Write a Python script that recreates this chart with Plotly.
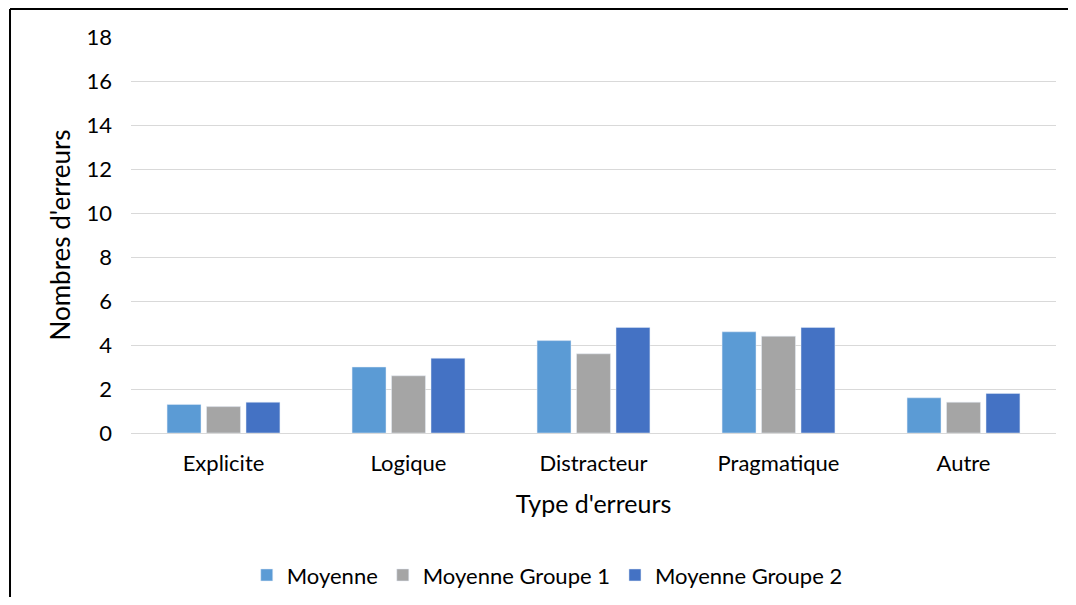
import plotly.graph_objects as go

categories = ['Explicite', 'Logique', 'Distracteur', 'Pragmatique', 'Autre']
moyenne = [1.3, 3.0, 4.2, 4.6, 1.6]
moyenne_g1 = [1.2, 2.6, 3.6, 4.4, 1.4]
moyenne_g2 = [1.4, 3.4, 4.8, 4.8, 1.8]
y_ticks = [0, 2, 4, 6, 8, 10, 12, 14, 16, 18]

font_family = 'Lato, Carlito, Calibri, sans-serif'

fig = go.Figure()
fig.add_trace(go.Bar(x=categories, y=moyenne, name='Moyenne', marker_color='#5B9BD5'))
fig.add_trace(go.Bar(x=categories, y=moyenne_g1, name='Moyenne Groupe 1', marker_color='#A5A5A5'))
fig.add_trace(go.Bar(x=categories, y=moyenne_g2, name='Moyenne Groupe 2', marker_color='#4472C4'))

# the page has an 8px body margin, so the figure is a bit smaller than the window
fig.update_layout(
    width=1060, height=589,
    margin=dict(l=123, r=12, t=29, b=164, autoexpand=False),
    paper_bgcolor='white', plot_bgcolor='white',
    font=dict(family=font_family, size=22, color='#000000'),
    barmode='group', bargap=0.36, bargroupgap=0.14,
    legend=dict(orientation='h', x=0.45, y=-0.359, xanchor='center', yanchor='middle',
                font=dict(size=22), itemwidth=30, tracegroupgap=0),
    xaxis=dict(
        title=dict(text="Type d'erreurs", font=dict(size=25), standoff=20),
        showline=True, linecolor='#d9d9d9', linewidth=1, ticks='',
        tickfont=dict(size=22), ticklabelstandoff=11, automargin=False,
    ),
    yaxis=dict(
        title=dict(text="Nombres d'erreurs", font=dict(size=26), standoff=8),
        range=[0, 18], tickvals=y_ticks, showgrid=True, gridcolor='#d9d9d9', gridwidth=1,
        zeroline=False, showline=False, ticks='', tickfont=dict(size=22),
        ticklabelstandoff=18, automargin=False,
    ),
)

# chart frame: only the left and top edges show, the rest runs off the picture
fig.add_shape(type='line', xref='paper', yref='paper',
              x0=-0.1308, x1=-0.1308, y0=-0.6, y1=1.0707,
              line=dict(color='black', width=2), layer='below')
fig.add_shape(type='line', xref='paper', yref='paper',
              x0=-0.1308, x1=1.1, y0=1.0707, y1=1.0707,
              line=dict(color='black', width=2), layer='below')

fig.write_html("out.html")
